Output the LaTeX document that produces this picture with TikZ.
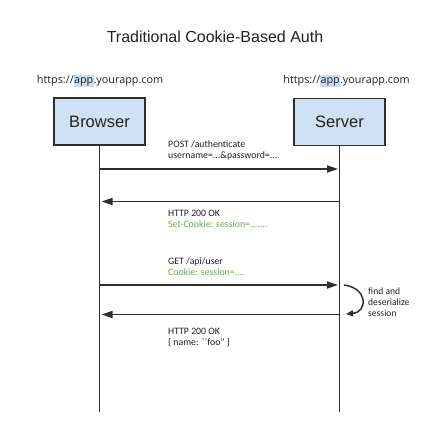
\documentclass[tikz,border=0pt]{standalone}
\usepackage{fontspec}
\setmainfont{Liberation Sans}
\newfontfamily\smallfont{Carlito}
\newfontfamily\urlfont{Open Sans}
\usetikzlibrary{arrows.meta}
\definecolor{boxfill}{HTML}{CFE2F3}
\definecolor{linecol}{HTML}{2E2E2E}
\definecolor{textcol}{HTML}{222222}
\definecolor{greentext}{HTML}{6AA84F}
\definecolor{hl}{HTML}{C9DCF2}
\newcommand{\hlapp}{{\setlength{\fboxsep}{0.3pt}\colorbox{hl}{\strut app}}}
\tikzset{
  actor/.style={draw=linecol, line width=1.8pt, fill=boxfill, text=textcol, minimum width=91pt, minimum height=47pt, inner sep=0pt, font=\fontsize{16.5}{19}\selectfont},
  lifeline/.style={draw=linecol, line width=1.8pt},
  msg/.style={draw=linecol, line width=1.8pt, -{Triangle[length=11pt,width=7pt]}},
  lbl/.style={anchor=west, inner sep=0pt, align=left, text=textcol, font=\smallfont\fontsize{9.8}{11}\selectfont},
  url/.style={inner sep=0pt, text=textcol, font=\urlfont\fontsize{10.8}{12}\selectfont},
  note/.style={anchor=west, inner sep=0pt, align=left, text=textcol, font=\smallfont\fontsize{9.6}{11}\selectfont}
}
\begin{document}
\begin{tikzpicture}[x=1pt,y=-1pt]
\useasboundingbox (0,0) rectangle (421,427);
\node[inner sep=0pt, text=textcol, font=\fontsize{16}{19}\selectfont] (title) at (215,37) {Traditional Cookie-Based Auth};
\node[url] (urlb) at (100,81) {https://\hlapp.yourapp.com};
\node[url] (urls) at (346.5,81) {https://\hlapp.yourapp.com};
\node[actor] (browser) at (99.5,121.5) {Browser};
\node[actor] (server) at (339.5,122) {Server};
\coordinate (bend) at (99.5,412);
\coordinate (send) at (339.5,412);
\draw[lifeline] (browser.south) -- (bend);
\draw[lifeline] (server.south) -- (send);
\coordinate (b1) at (99.5,169); \coordinate (s1) at (338,169);
\coordinate (b2) at (101.5,201.5); \coordinate (s2) at (339.5,201.5);
\coordinate (b3) at (99.5,285); \coordinate (s3) at (338,285);
\coordinate (b4) at (101.5,314.5); \coordinate (s4) at (339.5,314.5);
\draw[msg] (b1) -- (s1);
\draw[msg] (s2) -- (b2);
\draw[msg] (b3) -- (s3);
\draw[msg] (s4) -- (b4);
\node[lbl] (m1) at (168,150) {POST /authenticate\\username=...\&password=...};
\node[lbl] (m2) at (168,218.5) {HTTP 200 OK\\\textcolor{greentext}{Set-Cookie: session=.......}};
\node[lbl] (m3) at (168,266.5) {GET /api/user\\\textcolor{greentext}{Cookie: session=....}};
\node[lbl] (m4) at (168,337) {HTTP 200 OK\\\{ name: ``foo'' \}};
\coordinate (c1) at (344,285);
\coordinate (c2) at (346,314);
\draw[draw=linecol, line width=1.5pt, -{Triangle[length=7pt,width=6pt]}] (c1) .. controls (368,288) and (368,312) .. (c2);
\node[note] (n1) at (368,302) {find and\\deserialize\\session};
\end{tikzpicture}
\end{document}
